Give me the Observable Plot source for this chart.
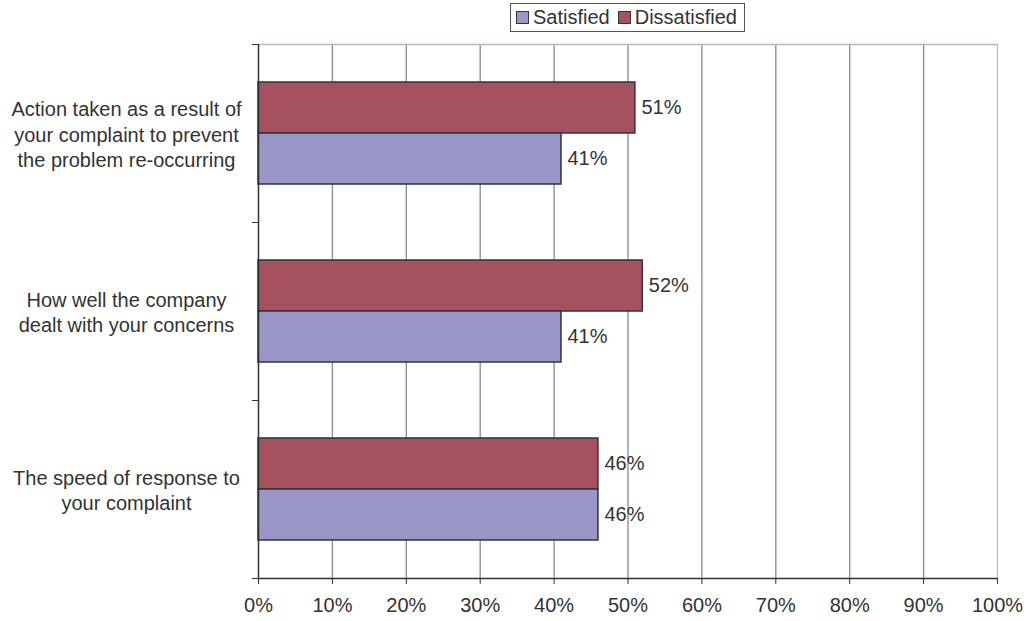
<!DOCTYPE html>
<html>
<head>
<meta charset="utf-8">
<script src="https://cdn.jsdelivr.net/npm/d3@7"></script>
<script src="https://cdn.jsdelivr.net/npm/@observablehq/plot@0.6"></script>
<style>
  html, body { margin: 0; padding: 0; background: #fff; }
  #chart { width: 1026px; height: 621px; position: relative; font-family: "Liberation Sans", Arial, sans-serif; }
  .legend-row { height: 33px; padding: 3px 29px 0 258px; display: flex; justify-content: center; box-sizing: content-box; }
  .legend { height: 27px; border: 1px solid #555; display: flex; align-items: center; padding: 0 7px 0 5px; font-size: 20px; color: #333; gap: 8px; }
  .item { display: flex; align-items: center; gap: 4px; }
  .sw { width: 11px; height: 11px; border: 1px solid #333; }
</style>
</head>
<body>
<div id="chart"></div>
<script>
const categories = [
  "Action taken as a result of\nyour complaint to prevent\nthe problem re-occurring",
  "How well the company\ndealt with your concerns",
  "The speed of response to\nyour complaint"
];
const seriesNames = ["Satisfied", "Dissatisfied"];
const satisfied = [41, 41, 46];
const dissatisfied = [51, 52, 46];
const xTicks = [0, 10, 20, 30, 40, 50, 60, 70, 80, 90, 100];
const colors = {Satisfied: "#9B96C8", Dissatisfied: "#A5515F"};

// band layout within each category (fraction of category height)
const outerPad = 38 / 178;
const barSize = 51 / 178;
const seriesSlot = {Dissatisfied: 0, Satisfied: 1};

const rows = [];
categories.forEach((c, i) => {
  rows.push({category: c, index: i, series: "Dissatisfied", value: dissatisfied[i]});
  rows.push({category: c, index: i, series: "Satisfied", value: satisfied[i]});
});
const y1 = d => d.index + outerPad + seriesSlot[d.series] * barSize;
const y2 = d => y1(d) + barSize;

const root = document.getElementById("chart");
const legendRow = document.createElement("div");
legendRow.className = "legend-row";
const legend = document.createElement("div");
legend.className = "legend";
seriesNames.forEach(s => {
  const it = document.createElement("div");
  it.className = "item";
  const sw = document.createElement("span");
  sw.className = "sw";
  sw.style.background = colors[s];
  const tx = document.createElement("span");
  tx.textContent = s;
  it.append(sw, tx);
  legend.append(it);
});
legendRow.append(legend);
root.append(legendRow);

const fs = 20;
const chart = Plot.plot({
  width: 1026,
  height: 585,
  marginTop: 8,
  marginBottom: 43,
  marginLeft: 258,
  marginRight: 29,
  style: {fontFamily: "Liberation Sans, Arial, sans-serif", fontSize: fs + "px", color: "#333", background: "#fff", overflow: "visible"},
  x: {domain: [0, 100]},
  y: {domain: [0, 3], reverse: true},
  marks: [
    Plot.ruleX(xTicks.filter(t => t > 0 && t < 100), {stroke: "#8a8a8a", strokeWidth: 1.3}),
    Plot.ruleX([100], {stroke: "#c4b4b4", strokeWidth: 1.3}),
    Plot.ruleY([0], {stroke: "#c4b4b4", strokeWidth: 1.3}),
    Plot.rect(rows, {
      x1: d => 0, x2: "value", y1, y2,
      fill: d => colors[d.series],
      stroke: "#333", strokeWidth: 1.5
    }),
    Plot.text(rows, {
      x: "value", y: d => (y1(d) + y2(d)) / 2,
      text: d => d.value + "%",
      textAnchor: "start", dx: 6, fontSize: fs, fill: "#333"
    }),
    Plot.text(categories, {
      x: d => 0, y: (d, i) => i + 0.5,
      text: d => d, textAnchor: "middle", dx: -132,
      lineHeight: 1.27, fontSize: fs, fill: "#333"
    }),
    Plot.ruleX([0], {stroke: "#333", strokeWidth: 1.5}),
    Plot.ruleY([3], {stroke: "#333", strokeWidth: 1.5}),
    Plot.axisX({ticks: xTicks, tickFormat: d => d + "%", tickSize: 6, tickPadding: 13, fontSize: fs, stroke: "#333", fill: "#333", label: null}),
    Plot.axisY({ticks: [0, 1, 2, 3], tickFormat: () => "", tickSize: 6, stroke: "#333", label: null})
  ]
});
root.append(chart);
</script>
</body>
</html>
